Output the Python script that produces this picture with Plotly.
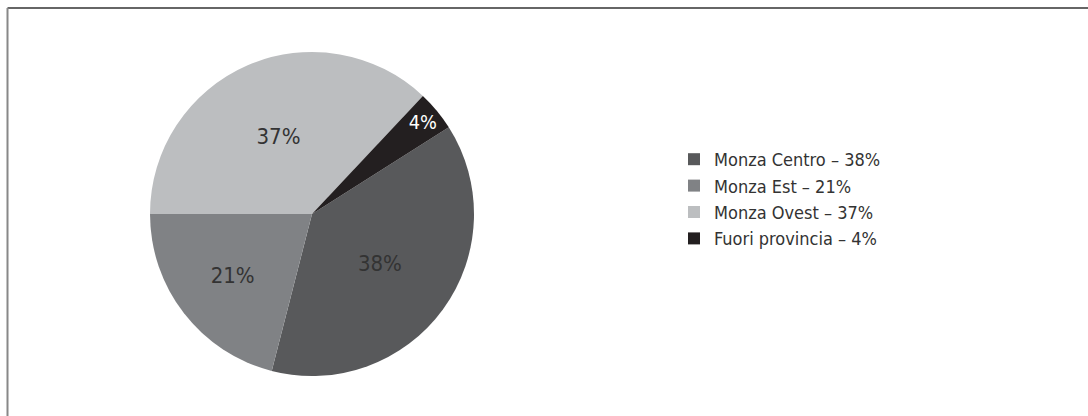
import plotly.graph_objects as go

categories = ["Monza Centro", "Monza Est", "Monza Ovest", "Fuori provincia"]
values = [38, 21, 37, 4]
legend_labels = ["Monza Centro – 38%", "Monza Est – 21%", "Monza Ovest – 37%", "Fuori provincia – 4%"]
colors = ["#58595b", "#808285", "#bcbec0", "#231f20"]
text_colors = ["#333333", "#333333", "#333333", "#ffffff"]

W, H = 1088, 416
FONT = "Liberation Sans Narrow, DejaVu Sans Condensed, Arial Narrow, sans-serif"

cx, cy, r = 312, 214, 162

fig = go.Figure()
fig.add_trace(go.Pie(
    labels=legend_labels,
    values=values,
    sort=False,
    direction="clockwise",
    rotation=57.6,
    marker=dict(colors=colors, line=dict(width=0)),
    texttemplate="%{percent:.0%}",
    textposition="inside",
    insidetextorientation="horizontal",
    insidetextfont=dict(family=FONT, size=22, color=text_colors),
    hoverinfo="label",
    domain=dict(x=[(cx - r) / W, (cx + r) / W], y=[(H - cy - r) / H, (H - cy + r) / H]),
))

fig.update_layout(
    width=W, height=H,
    margin=dict(l=0, r=0, t=0, b=0),
    paper_bgcolor="white",
    plot_bgcolor="white",
    showlegend=True,
    legend=dict(
        x=674 / W, xanchor="left",
        y=(H - 141) / H, yanchor="top",
        font=dict(family=FONT, size=18, color="#333333"),
        itemwidth=30,
        tracegroupgap=0,
        bgcolor="rgba(0,0,0,0)",
    ),
    shapes=[
        dict(type="line", xref="paper", yref="paper", x0=7.5 / W, x1=1, y0=(H - 8) / H, y1=(H - 8) / H,
             line=dict(color="#333333", width=1.5)),
        dict(type="line", xref="paper", yref="paper", x0=7.5 / W, x1=7.5 / W, y0=0, y1=(H - 8) / H,
             line=dict(color="#888888", width=2)),
    ],
)

fig.write_html("out.html")
